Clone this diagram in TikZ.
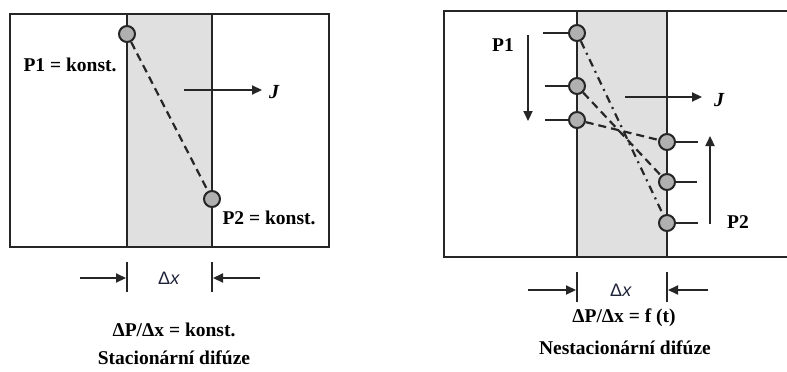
\documentclass[tikz,border=0pt]{standalone}
\usepackage{fontspec}
\setmainfont{Liberation Serif}
\newfontfamily\sansf{Liberation Sans}
\usetikzlibrary{arrows.meta}
\definecolor{ink}{HTML}{262626}
\definecolor{strip}{HTML}{E0E0E0}
\definecolor{dot}{HTML}{B0B0B0}
\definecolor{dxcol}{HTML}{1E2238}
\tikzset{
  frame/.style={draw=ink, line width=2.8pt},
  wall/.style={draw=ink, line width=2.4pt},
  pt/.style={circle, draw=ink, fill=dot, line width=2pt, minimum size=16pt, inner sep=0pt},
  lbl/.style={font=\fontsize{19.5}{22}\selectfont\bfseries, text=black, inner sep=0pt},
  jl/.style={font=\fontsize{20}{22}\selectfont\bfseries\itshape, text=black, inner sep=0pt},
  dxl/.style={font=\sansf\fontsize{18}{20}\selectfont, text=dxcol, inner sep=0pt},
  arr/.style={draw=ink, line width=2.2pt, -{Triangle[length=10pt,width=9pt]}},
  tick/.style={draw=ink, line width=2.4pt},
  stub/.style={draw=ink, line width=2.4pt},
  dsh/.style={draw=ink, line width=2.2pt, dash pattern=on 8pt off 5pt},
  dshdot/.style={draw=ink, line width=2.2pt, dash pattern=on 8pt off 5pt on 2pt off 5pt}
}
\begin{document}
\begin{tikzpicture}[x=1pt,y=-1pt]
\useasboundingbox (0,0) rectangle (787,372);
% ---------------- left: stationary ----------------
\fill[strip] (127,14) rectangle (212,247);
\draw[frame] (10,14) rectangle (329,247);
\draw[wall] (127,14) -- (127,247);
\draw[wall] (212,14) -- (212,247);
\node[pt] (a1) at (127,34) {};
\node[pt] (a2) at (212,199) {};
\draw[dsh] (a1) -- (a2);
\node[lbl] (ta1) at (70,65) {P1 = konst.};
\node[lbl] (ta2) at (269,218) {P2 = konst.};
\coordinate (ja0) at (184,90);
\coordinate (ja1) at (262,90);
\draw[arr] (ja0) -- (ja1);
\node[jl] (jA) at (274,92) {J};
% dimension
\coordinate (lt1a) at (127,262); \coordinate (lt1b) at (127,292);
\coordinate (lt2a) at (212,262); \coordinate (lt2b) at (212,292);
\draw[tick] (lt1a) -- (lt1b);
\draw[tick] (lt2a) -- (lt2b);
\coordinate (la0) at (80,278); \coordinate (la1) at (126,278);
\coordinate (lb0) at (260,278); \coordinate (lb1) at (213,278);
\draw[arr] (la0) -- (la1);
\draw[arr] (lb0) -- (lb1);
\node[dxl] (dxA) at (169,278) {Δ\textit{x}};
\node[lbl] (eqA) at (174,330) {ΔP/Δx = konst.};
\node[lbl] (capA) at (174,358) {Stacionární difúze};
% ---------------- right: non-stationary ----------------
\fill[strip] (577,11) rectangle (667,257);
\draw[frame] (787,11) -- (444,11) -- (444,257) -- (787,257);
\draw[wall] (577,11) -- (577,257);
\draw[wall] (667,11) -- (667,257);
% stubs
\coordinate (s1) at (543,33); \coordinate (s2) at (545,86); \coordinate (s3) at (545,120);
\coordinate (r1) at (698,142); \coordinate (r2) at (697,182); \coordinate (r3) at (698,223);
\draw[stub] (s1) -- (577,33);
\draw[stub] (s2) -- (577,86);
\draw[stub] (s3) -- (577,120);
\draw[stub] (667,142) -- (r1);
\draw[stub] (667,182) -- (r2);
\draw[stub] (667,223) -- (r3);
\node[pt] (b1) at (577,33) {};
\node[pt] (b2) at (577,86) {};
\node[pt] (b3) at (577,120) {};
\node[pt] (c1) at (667,142) {};
\node[pt] (c2) at (667,182) {};
\node[pt] (c3) at (667,223) {};
\draw[dshdot] (b1) -- (c3);
\draw[dsh] (b2) -- (c2);
\draw[dsh] (b3) -- (c1);
\node[lbl] (tb1) at (503,45) {P1};
\node[lbl] (tb2) at (738,222) {P2};
\coordinate (pd0) at (528,35); \coordinate (pd1) at (528,121);
\draw[arr] (pd0) -- (pd1);
\coordinate (pu0) at (710,224); \coordinate (pu1) at (710,136);
\draw[arr] (pu0) -- (pu1);
\coordinate (jb0) at (625,97); \coordinate (jb1) at (702,97);
\draw[arr] (jb0) -- (jb1);
\node[jl] (jB) at (719,100) {J};
% dimension
\coordinate (rt1a) at (577,272); \coordinate (rt1b) at (577,302);
\coordinate (rt2a) at (667,272); \coordinate (rt2b) at (667,302);
\draw[tick] (rt1a) -- (rt1b);
\draw[tick] (rt2a) -- (rt2b);
\coordinate (ra0) at (528,290); \coordinate (ra1) at (576,290);
\coordinate (rb0) at (708,290); \coordinate (rb1) at (668,290);
\draw[arr] (ra0) -- (ra1);
\draw[arr] (rb0) -- (rb1);
\node[dxl] (dxB) at (621,290) {Δ\textit{x}};
\node[lbl] (eqB) at (624,318) {ΔP/Δx = f (t)};
\node[lbl] (capB) at (625,348) {Nestacionární difúze};
\end{tikzpicture}
\end{document}
